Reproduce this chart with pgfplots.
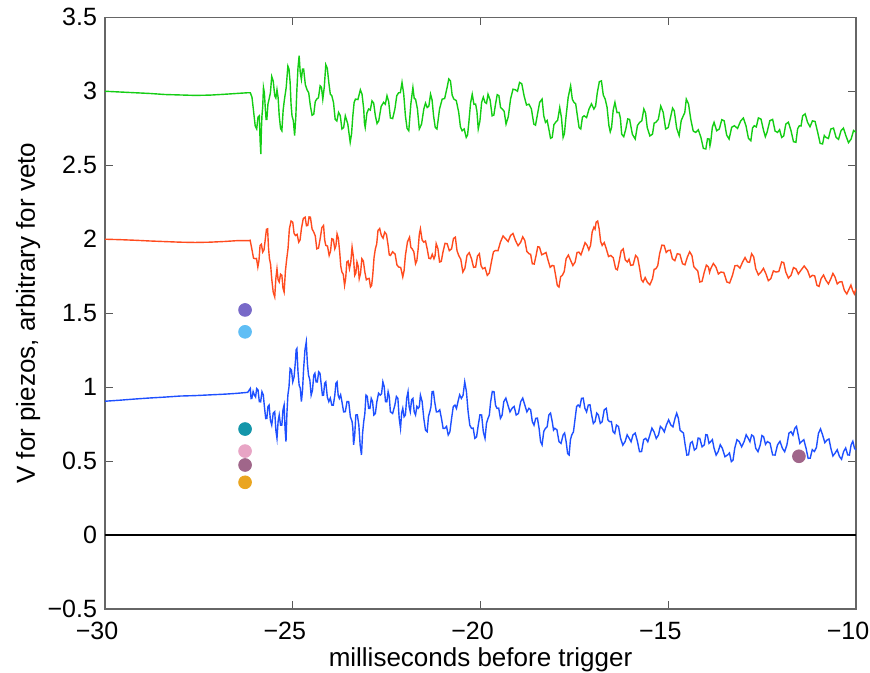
\documentclass[border=0pt]{standalone}
\usepackage{fontspec}
\setmainfont{Liberation Sans}
\usepackage{pgfplots}
\pgfplotsset{compat=1.18}
\usetikzlibrary{calc}
\definecolor{tgreen}{RGB}{20,205,20}
\definecolor{tred}{RGB}{255,75,30}
\definecolor{tblue}{RGB}{30,80,255}
\definecolor{dpurple}{RGB}{120,105,200}
\definecolor{dlblue}{RGB}{95,190,245}
\definecolor{dteal}{RGB}{20,150,170}
\definecolor{dpink}{RGB}{232,165,197}
\definecolor{dmauve}{RGB}{160,102,138}
\definecolor{dorange}{RGB}{234,165,32}
\begin{document}
\begin{tikzpicture}
\begin{axis}[
  scale only axis,
  width=375.5pt, height=295.9pt,
  xmin=-30, xmax=-10, ymin=-0.5, ymax=3.5,
  xtick={-30,-25,-20,-15,-10},
  xticklabels={−30,−25,−20,−15,−10},
  ytick={-0.5,0,0.5,1,1.5,2,2.5,3,3.5},
  yticklabels={−0.5,0,0.5,1,1.5,2,2.5,3,3.5},
  tick align=inside, tick pos=both,
  major tick length=4pt,
  tick style={black!65, line width=0.5pt},
  axis line style={black!60, line width=0.6pt},
  ticklabel style={font=\fontsize{12.5}{14}\selectfont},
  xticklabel style={yshift=-3pt, xshift=-4pt},
  yticklabel style={xshift=-0.5pt},
  label style={font=\fontsize{13}{15}\selectfont},
  xlabel={milliseconds before trigger},
  ylabel={V for piezos, arbitrary for veto},
  xlabel style={at={(axis description cs:0.5,0)}, anchor=base, yshift=-28.5pt},
  ylabel style={at={(axis description cs:0,0.5)}, anchor=base, yshift=35pt},
  clip=true,
]
% zero line
\addplot[black, line width=1.3pt] coordinates {(-30,0) (-10,0)};
% green trace
\addplot[tgreen, line width=0.7pt] table {
x y
-30 3.00
-29.6 2.995
-29.2 2.99
-28.8 2.985
-28.4 2.978
-28 2.975
-27.6 2.972
-27.2 2.974
-26.8 2.98
-26.5 2.985
-26.2 2.99
-26.13 2.99
-26.085 2.959
-26.04 2.857
-26.00 2.766
-25.96 2.745
-25.925 2.825
-25.89 2.834
-25.87 2.67
-25.85 2.576
-25.835 2.74
-25.82 2.834
-25.80 2.895
-25.78 3.025
-25.755 2.988
-25.73 2.88
-25.71 2.81
-25.69 2.81
-25.66 2.914
-25.63 2.947
-25.595 2.989
-25.56 3.10
-25.52 3.07
-25.48 2.97
-25.45 2.955
-25.42 3.01
-25.39 2.957
-25.36 2.834
-25.325 2.749
-25.29 2.733
-25.255 2.875
-25.22 2.947
-25.175 3.024
-25.13 3.17
-25.10 3.15
-25.07 3.06
-25.045 2.912
-25.02 2.834
-24.985 2.802
-24.95 2.70
-24.92 2.82
-24.89 3.01
-24.86 3.16
-24.83 3.24
-24.80 3.125
-24.77 3.08
-24.74 3.15
-24.71 3.15
-24.665 3.045
-24.62 3.01
-24.575 2.99
-24.53 2.90
-24.485 2.838
-24.44 2.845
-24.40 2.931
-24.36 2.947
-24.315 2.957
-24.27 3.037
-24.235 3.027
-24.20 2.947
-24.16 3.029
-24.12 3.18
-24.08 3.155
-24.04 3.06
-24.00 2.98
-23.96 2.97
-23.915 2.925
-23.87 2.81
-23.825 2.799
-23.78 2.857
-23.735 2.836
-23.69 2.745
-23.645 2.755
-23.60 2.834
-23.535 2.78
-23.47 2.655
-23.435 2.71
-23.40 2.834
-23.365 2.925
-23.33 2.947
-23.265 2.944
-23.20 3.01
-23.155 2.98
-23.11 2.88
-23.09 2.783
-23.07 2.755
-23.025 2.853
-22.98 2.88
-22.935 2.873
-22.89 2.935
-22.845 2.92
-22.80 2.834
-22.755 2.782
-22.71 2.80
-22.645 2.898
-22.58 2.925
-22.535 2.913
-22.49 2.97
-22.445 2.93
-22.40 2.82
-22.34 2.815
-22.28 2.88
-22.23 2.97
-22.18 2.99
-22.135 2.99
-22.09 3.06
-22.045 2.982
-22.0 2.834
-21.955 2.749
-21.91 2.733
-21.855 2.914
-21.80 3.025
-21.765 2.951
-21.73 2.947
-21.68 2.881
-21.63 2.745
-21.57 2.778
-21.51 2.88
-21.465 2.92
-21.42 2.89
-21.375 2.90
-21.33 2.98
-21.29 2.942
-21.25 2.834
-21.205 2.755
-21.16 2.745
-21.09 2.881
-21.02 2.947
-20.955 2.951
-20.89 3.025
-20.845 3.083
-20.80 3.07
-20.755 2.974
-20.71 2.947
-20.645 2.937
-20.58 2.857
-20.535 2.76
-20.49 2.733
-20.435 2.745
-20.38 2.688
-20.345 2.704
-20.31 2.79
-20.265 2.92
-20.22 2.98
-20.175 2.912
-20.13 2.913
-20.095 2.864
-20.06 2.745
-20.015 2.80
-19.97 2.925
-19.925 2.96
-19.88 2.925
-19.84 2.918
-19.80 2.98
-19.745 2.942
-19.69 2.834
-19.645 2.839
-19.60 2.913
-19.555 2.977
-19.51 2.97
-19.465 2.89
-19.42 2.88
-19.37 2.864
-19.32 2.778
-19.26 2.828
-19.20 2.947
-19.135 3.014
-19.07 3.01
-19.015 3.00
-18.96 3.06
-18.90 3.05
-18.84 2.97
-18.775 2.907
-18.71 2.913
-18.645 2.881
-18.58 2.778
-18.535 2.771
-18.49 2.834
-18.425 2.925
-18.36 2.947
-18.315 2.834
-18.27 2.79
-18.225 2.803
-18.18 2.745
-18.135 2.682
-18.09 2.688
-18.045 2.774
-18.0 2.79
-17.945 2.805
-17.89 2.89
-17.845 2.824
-17.80 2.688
-17.765 2.714
-17.73 2.81
-17.665 2.959
-17.60 3.037
-17.555 2.946
-17.51 2.925
-17.465 2.915
-17.42 2.834
-17.375 2.755
-17.33 2.745
-17.285 2.825
-17.24 2.834
-17.175 2.822
-17.11 2.88
-17.045 2.915
-16.98 2.88
-16.935 2.90
-16.89 2.99
-16.835 3.065
-16.78 3.07
-16.73 2.974
-16.68 2.947
-16.63 2.892
-16.58 2.767
-16.545 2.726
-16.51 2.755
-16.465 2.875
-16.42 2.925
-16.365 2.856
-16.31 2.857
-16.275 2.819
-16.24 2.71
-16.185 2.693
-16.13 2.745
-16.08 2.813
-16.03 2.81
-15.955 2.709
-15.88 2.677
-15.82 2.769
-15.76 2.79
-15.705 2.80
-15.65 2.88
-15.605 2.853
-15.56 2.755
-15.49 2.698
-15.42 2.71
-15.375 2.785
-15.33 2.79
-15.265 2.81
-15.20 2.90
-15.135 2.858
-15.07 2.745
-15.00 2.755
-14.93 2.834
-14.885 2.886
-14.84 2.868
-14.775 2.749
-14.71 2.70
-14.655 2.802
-14.60 2.834
-14.56 2.856
-14.52 2.947
-14.46 2.914
-14.40 2.81
-14.335 2.731
-14.27 2.722
-14.20 2.74
-14.13 2.688
-14.065 2.614
-14.0 2.61
-13.955 2.679
-13.91 2.677
-13.89 2.631
-13.87 2.655
-13.825 2.758
-13.78 2.79
-13.71 2.733
-13.64 2.745
-13.575 2.808
-13.51 2.80
-13.445 2.704
-13.38 2.677
-13.31 2.757
-13.24 2.767
-13.155 2.749
-13.07 2.80
-13.00 2.819
-12.93 2.767
-12.865 2.682
-12.80 2.666
-12.755 2.752
-12.71 2.767
-12.655 2.759
-12.60 2.82
-12.53 2.812
-12.46 2.733
-12.415 2.693
-12.37 2.722
-12.295 2.801
-12.22 2.81
-12.155 2.731
-12.09 2.722
-12.035 2.74
-11.98 2.688
-11.925 2.698
-11.87 2.778
-11.80 2.791
-11.73 2.733
-11.665 2.659
-11.60 2.655
-11.555 2.746
-11.51 2.767
-11.465 2.765
-11.42 2.834
-11.355 2.847
-11.29 2.79
-11.225 2.76
-11.16 2.80
-11.09 2.796
-11.02 2.722
-10.955 2.648
-10.89 2.644
-10.845 2.701
-10.80 2.688
-10.735 2.681
-10.67 2.745
-10.60 2.751
-10.53 2.688
-10.465 2.675
-10.40 2.733
-10.335 2.751
-10.27 2.70
-10.20 2.653
-10.13 2.677
-10.065 2.735
-10.0 2.722
};
% red trace
\addplot[tred, line width=0.7pt] table {
x y
-30 2.00
-29.6 1.997
-29.2 1.993
-28.8 1.988
-28.4 1.984
-28 1.98
-27.6 1.978
-27.2 1.98
-26.8 1.985
-26.5 1.99
-26.18 1.99
-26.135 1.993
-26.09 1.935
-26.045 1.872
-26.0 1.868
-25.965 1.87
-25.93 1.812
-25.90 1.855
-25.87 1.958
-25.835 1.966
-25.80 1.913
-25.765 1.928
-25.73 2.003
-25.70 2.067
-25.67 2.07
-25.645 1.939
-25.62 1.868
-25.59 1.83
-25.56 1.733
-25.52 1.642
-25.48 1.61
-25.45 1.735
-25.42 1.80
-25.39 1.726
-25.36 1.711
-25.325 1.764
-25.29 1.756
-25.26 1.67
-25.23 1.643
-25.195 1.786
-25.16 1.868
-25.125 1.939
-25.09 2.07
-25.045 2.123
-25.0 2.115
-24.965 2.04
-24.93 2.025
-24.885 2.033
-24.84 1.98
-24.805 1.995
-24.77 2.07
-24.72 2.14
-24.67 2.149
-24.635 2.091
-24.60 2.093
-24.565 2.151
-24.53 2.149
-24.485 2.069
-24.44 2.048
-24.40 2.022
-24.36 1.935
-24.315 1.939
-24.27 2.003
-24.225 2.078
-24.18 2.093
-24.15 1.996
-24.12 1.958
-24.075 1.954
-24.03 1.89
-23.995 1.917
-23.96 2.003
-23.92 1.999
-23.88 1.935
-23.85 1.956
-23.82 2.036
-23.785 2.005
-23.75 1.913
-23.72 1.816
-23.69 1.778
-23.655 1.763
-23.62 1.688
-23.59 1.737
-23.56 1.846
-23.525 1.853
-23.49 1.80
-23.455 1.844
-23.42 1.947
-23.385 1.882
-23.35 1.756
-23.32 1.771
-23.29 1.846
-23.26 1.82
-23.23 1.733
-23.195 1.77
-23.16 1.868
-23.12 1.853
-23.08 1.778
-23.04 1.726
-23.0 1.733
-22.965 1.735
-22.93 1.677
-22.90 1.687
-22.87 1.756
-22.835 1.876
-22.80 1.935
-22.765 1.967
-22.73 2.059
-22.685 2.072
-22.64 2.025
-22.595 2.007
-22.55 2.048
-22.505 2.033
-22.46 1.958
-22.43 1.894
-22.4 1.89
-22.34 1.915
-22.275 1.90
-22.225 1.826
-22.18 1.812
-22.125 1.809
-22.07 1.745
-22.035 1.788
-22.0 1.89
-21.945 1.982
-21.89 2.014
-21.855 1.945
-21.82 1.935
-21.775 1.915
-21.73 1.834
-21.695 1.855
-21.66 1.935
-21.63 2.033
-21.60 2.07
-21.555 1.995
-21.51 1.98
-21.465 1.988
-21.42 1.935
-21.375 1.872
-21.33 1.868
-21.285 1.898
-21.24 1.868
-21.21 1.889
-21.18 1.97
-21.135 1.938
-21.09 1.846
-21.045 1.85
-21.0 1.913
-20.945 1.972
-20.89 1.97
-20.83 1.923
-20.77 1.935
-20.72 2.005
-20.67 2.014
-20.625 1.922
-20.58 1.89
-20.525 1.864
-20.47 1.778
-20.415 1.804
-20.36 1.89
-20.30 1.909
-20.24 1.868
-20.185 1.81
-20.13 1.812
-20.08 1.887
-20.03 1.902
-19.985 1.821
-19.94 1.80
-19.88 1.808
-19.82 1.756
-19.765 1.771
-19.71 1.846
-19.655 1.915
-19.60 1.924
-19.535 1.922
-19.47 1.98
-19.40 2.022
-19.33 2.003
-19.265 1.984
-19.2 2.025
-19.135 2.039
-19.07 1.992
-19.00 1.956
-18.93 1.98
-18.875 2.016
-18.82 1.992
-18.765 1.917
-18.71 1.902
-18.665 1.898
-18.62 1.834
-18.57 1.832
-18.52 1.89
-18.475 1.949
-18.43 1.947
-18.37 1.895
-18.31 1.902
-18.255 1.91
-18.2 1.857
-18.145 1.81
-18.09 1.823
-18.045 1.82
-18.0 1.756
-17.955 1.687
-17.91 1.677
-17.865 1.747
-17.82 1.756
-17.77 1.782
-17.72 1.868
-17.66 1.893
-17.60 1.857
-17.54 1.822
-17.48 1.846
-17.43 1.91
-17.38 1.913
-17.325 1.894
-17.27 1.935
-17.215 1.977
-17.16 1.958
-17.115 1.928
-17.07 1.958
-17.025 2.05
-16.98 2.081
-16.95 2.068
-16.92 2.115
-16.88 2.123
-16.84 2.07
-16.80 1.984
-16.76 1.958
-16.705 1.977
-16.65 1.935
-16.59 1.883
-16.53 1.89
-16.465 1.875
-16.40 1.80
-16.355 1.793
-16.31 1.846
-16.255 1.921
-16.20 1.935
-16.145 1.861
-16.09 1.846
-16.045 1.865
-16.0 1.823
-15.935 1.827
-15.87 1.89
-15.815 1.875
-15.76 1.80
-15.715 1.726
-15.67 1.711
-15.615 1.741
-15.56 1.711
-15.49 1.692
-15.42 1.733
-15.375 1.797
-15.33 1.80
-15.28 1.821
-15.23 1.902
-15.17 1.96
-15.11 1.958
-15.055 1.911
-15.0 1.924
-14.945 1.926
-14.89 1.868
-14.825 1.855
-14.76 1.902
-14.69 1.898
-14.62 1.834
-14.555 1.827
-14.49 1.88
-14.43 1.915
-14.37 1.89
-14.32 1.815
-14.27 1.80
-14.215 1.786
-14.16 1.711
-14.10 1.715
-14.04 1.778
-13.985 1.825
-13.93 1.812
-13.90 1.776
-13.87 1.80
-13.80 1.836
-13.73 1.812
-13.665 1.765
-13.60 1.778
-13.52 1.775
-13.44 1.711
-13.365 1.704
-13.29 1.756
-13.225 1.82
-13.16 1.823
-13.09 1.805
-13.02 1.846
-12.955 1.876
-12.89 1.846
-12.835 1.844
-12.78 1.902
-12.725 1.881
-12.67 1.80
-12.60 1.759
-12.53 1.778
-12.465 1.803
-12.40 1.767
-12.335 1.72
-12.27 1.733
-12.20 1.786
-12.13 1.778
-12.055 1.782
-11.98 1.846
-11.925 1.842
-11.87 1.778
-11.80 1.737
-11.73 1.756
-11.665 1.808
-11.60 1.80
-11.535 1.765
-11.47 1.789
-11.38 1.819
-11.29 1.789
-11.225 1.743
-11.16 1.756
-11.10 1.752
-11.04 1.688
-10.985 1.681
-10.93 1.733
-10.865 1.758
-10.80 1.722
-10.735 1.698
-10.67 1.733
-10.615 1.769
-10.56 1.745
-10.50 1.698
-10.44 1.711
-10.375 1.713
-10.31 1.654
-10.245 1.63
-10.18 1.666
-10.135 1.69
-10.09 1.654
-10.045 1.63
-10.0 1.666
};
% blue trace
\addplot[tblue, line width=0.7pt] table {
x y
-30 0.905
-29.6 0.912
-29.2 0.92
-28.8 0.927
-28.4 0.933
-28 0.94
-27.6 0.943
-27.2 0.948
-26.8 0.953
-26.5 0.958
-26.2 0.965
-26.13 0.991
-26.11 0.923
-26.09 0.924
-26.055 0.97
-26.02 0.946
-25.99 0.934
-25.96 0.991
-25.925 0.982
-25.89 0.902
-25.855 0.901
-25.82 0.969
-25.785 0.948
-25.75 0.857
-25.72 0.788
-25.69 0.789
-25.66 0.869
-25.63 0.879
-25.595 0.777
-25.56 0.744
-25.52 0.824
-25.48 0.834
-25.45 0.709
-25.42 0.654
-25.39 0.768
-25.36 0.812
-25.325 0.743
-25.29 0.744
-25.26 0.847
-25.23 0.879
-25.205 0.721
-25.18 0.632
-25.155 0.824
-25.13 0.946
-25.10 1.001
-25.07 1.126
-25.035 1.116
-25.0 1.036
-24.965 1.069
-24.93 1.171
-24.91 1.251
-24.89 1.261
-24.86 1.103
-24.83 1.014
-24.80 0.993
-24.77 0.902
-24.74 0.979
-24.71 1.126
-24.675 1.251
-24.64 1.306
-24.61 1.159
-24.58 1.081
-24.545 1.049
-24.51 0.946
-24.475 0.979
-24.44 1.081
-24.41 1.094
-24.38 1.036
-24.345 1.035
-24.31 1.104
-24.275 1.094
-24.24 1.014
-24.21 0.945
-24.18 0.946
-24.15 1.026
-24.12 1.036
-24.08 0.934
-24.04 0.902
-24.00 0.926
-23.96 0.879
-23.92 0.878
-23.88 0.946
-23.85 1.026
-23.82 1.036
-23.79 0.945
-23.76 0.924
-23.725 0.948
-23.69 0.902
-23.645 0.833
-23.60 0.834
-23.555 0.903
-23.51 0.902
-23.465 0.80
-23.42 0.767
-23.40 0.724
-23.38 0.61
-23.35 0.676
-23.32 0.812
-23.28 0.813
-23.24 0.744
-23.205 0.608
-23.17 0.542
-23.14 0.69
-23.11 0.767
-23.08 0.822
-23.05 0.946
-23.015 0.937
-22.98 0.857
-22.945 0.856
-22.91 0.924
-22.875 0.903
-22.84 0.812
-22.80 0.822
-22.76 0.902
-22.715 0.959
-22.67 0.946
-22.635 0.956
-22.60 1.036
-22.565 1.004
-22.53 0.902
-22.495 0.901
-22.46 0.969
-22.43 0.937
-22.40 0.834
-22.34 0.822
-22.28 0.879
-22.24 0.937
-22.20 0.924
-22.165 0.788
-22.13 0.722
-22.10 0.825
-22.07 0.857
-22.035 0.80
-22.0 0.812
-21.965 0.926
-21.93 0.969
-21.90 0.867
-21.87 0.834
-21.835 0.914
-21.80 0.924
-21.765 0.833
-21.73 0.812
-21.695 0.87
-21.66 0.857
-21.63 0.867
-21.60 0.946
-21.555 0.903
-21.51 0.789
-21.465 0.709
-21.42 0.699
-21.385 0.802
-21.35 0.834
-21.32 0.867
-21.29 0.969
-21.255 0.971
-21.22 0.902
-21.175 0.833
-21.13 0.834
-21.085 0.847
-21.04 0.789
-20.995 0.721
-20.95 0.722
-20.905 0.735
-20.86 0.677
-20.815 0.698
-20.77 0.789
-20.725 0.869
-20.68 0.879
-20.64 0.856
-20.60 0.902
-20.555 0.948
-20.51 0.924
-20.465 0.945
-20.42 1.036
-20.375 0.97
-20.33 0.834
-20.285 0.743
-20.24 0.722
-20.195 0.723
-20.15 0.654
-20.105 0.664
-20.06 0.744
-20.015 0.813
-19.97 0.812
-19.925 0.698
-19.88 0.654
-19.84 0.757
-19.80 0.789
-19.765 0.811
-19.73 0.902
-19.685 0.971
-19.64 0.969
-19.60 0.878
-19.56 0.857
-19.515 0.858
-19.47 0.789
-19.425 0.811
-19.38 0.902
-19.325 0.926
-19.27 0.879
-19.215 0.833
-19.16 0.857
-19.105 0.87
-19.05 0.812
-18.99 0.822
-18.93 0.902
-18.875 0.926
-18.82 0.879
-18.765 0.833
-18.71 0.857
-18.665 0.847
-18.62 0.767
-18.575 0.743
-18.53 0.789
-18.485 0.791
-18.44 0.722
-18.40 0.631
-18.36 0.61
-18.315 0.701
-18.27 0.722
-18.225 0.732
-18.18 0.812
-18.135 0.825
-18.09 0.767
-18.055 0.71
-18.02 0.722
-17.965 0.712
-17.91 0.632
-17.855 0.62
-17.80 0.677
-17.76 0.69
-17.72 0.632
-17.68 0.552
-17.64 0.542
-17.605 0.645
-17.57 0.677
-17.525 0.698
-17.48 0.789
-17.44 0.869
-17.40 0.879
-17.355 0.867
-17.31 0.924
-17.265 0.926
-17.22 0.857
-17.175 0.833
-17.13 0.879
-17.085 0.881
-17.04 0.812
-16.995 0.755
-16.95 0.767
-16.905 0.825
-16.86 0.812
-16.81 0.755
-16.76 0.767
-16.705 0.847
-16.65 0.857
-16.605 0.777
-16.56 0.767
-16.515 0.768
-16.47 0.699
-16.425 0.687
-16.38 0.744
-16.325 0.734
-16.27 0.654
-16.21 0.608
-16.15 0.632
-16.095 0.678
-16.04 0.654
-15.99 0.631
-15.94 0.677
-15.88 0.69
-15.82 0.632
-15.765 0.564
-15.71 0.565
-15.655 0.645
-15.60 0.654
-15.545 0.631
-15.49 0.677
-15.435 0.723
-15.38 0.699
-15.32 0.653
-15.26 0.677
-15.21 0.735
-15.16 0.722
-15.105 0.698
-15.05 0.744
-14.99 0.779
-14.93 0.744
-14.875 0.732
-14.82 0.789
-14.775 0.824
-14.73 0.789
-14.685 0.709
-14.64 0.699
-14.595 0.69
-14.55 0.61
-14.505 0.541
-14.46 0.542
-14.41 0.622
-14.36 0.632
-14.305 0.575
-14.25 0.587
-14.205 0.656
-14.16 0.654
-14.10 0.597
-14.04 0.61
-14.00 0.679
-13.96 0.677
-13.915 0.62
-13.87 0.632
-13.825 0.645
-13.78 0.587
-13.725 0.541
-13.67 0.565
-13.615 0.611
-13.56 0.587
-13.49 0.53
-13.42 0.542
-13.37 0.555
-13.32 0.497
-13.275 0.507
-13.23 0.587
-13.17 0.645
-13.11 0.632
-13.045 0.597
-12.98 0.632
-12.925 0.678
-12.87 0.654
-12.825 0.631
-12.78 0.677
-12.725 0.667
-12.67 0.587
-12.61 0.564
-12.55 0.61
-12.505 0.673
-12.46 0.665
-12.41 0.614
-12.36 0.632
-12.29 0.622
-12.22 0.542
-12.155 0.541
-12.09 0.61
-12.025 0.634
-11.96 0.587
-11.90 0.564
-11.84 0.61
-11.785 0.69
-11.73 0.699
-11.68 0.676
-11.63 0.722
-11.585 0.735
-11.54 0.677
-11.495 0.62
-11.45 0.632
-11.39 0.645
-11.33 0.587
-11.275 0.519
-11.22 0.52
-11.165 0.578
-11.11 0.565
-11.055 0.592
-11.00 0.688
-10.945 0.718
-10.89 0.677
-10.83 0.625
-10.77 0.643
-10.72 0.65
-10.67 0.587
-10.615 0.535
-10.56 0.553
-10.50 0.577
-10.44 0.531
-10.385 0.513
-10.33 0.565
-10.275 0.589
-10.22 0.542
-10.175 0.541
-10.13 0.61
-10.085 0.634
-10.04 0.587
-10.0 0.576
};
% dots
\addplot[only marks, mark=*, mark size=3.2pt, color=dpurple] coordinates {(-26.27,1.522)};
\addplot[only marks, mark=*, mark size=3.2pt, color=dlblue] coordinates {(-26.27,1.374)};
\addplot[only marks, mark=*, mark size=3.2pt, color=dteal] coordinates {(-26.27,0.717)};
\addplot[only marks, mark=*, mark size=3.2pt, color=dpink] coordinates {(-26.27,0.568)};
\addplot[only marks, mark=*, mark size=3.2pt, color=dmauve] coordinates {(-26.27,0.474) (-11.52,0.533)};
\addplot[only marks, mark=*, mark size=3.2pt, color=dorange] coordinates {(-26.27,0.357)};
\end{axis}
\pgfresetboundingbox
\path[use as bounding box] ($(current axis.south west)+(-52.5pt,-31.5pt)$) rectangle ($(current axis.north east)+(7pt,8.65pt)$);
\end{tikzpicture}
\end{document}
